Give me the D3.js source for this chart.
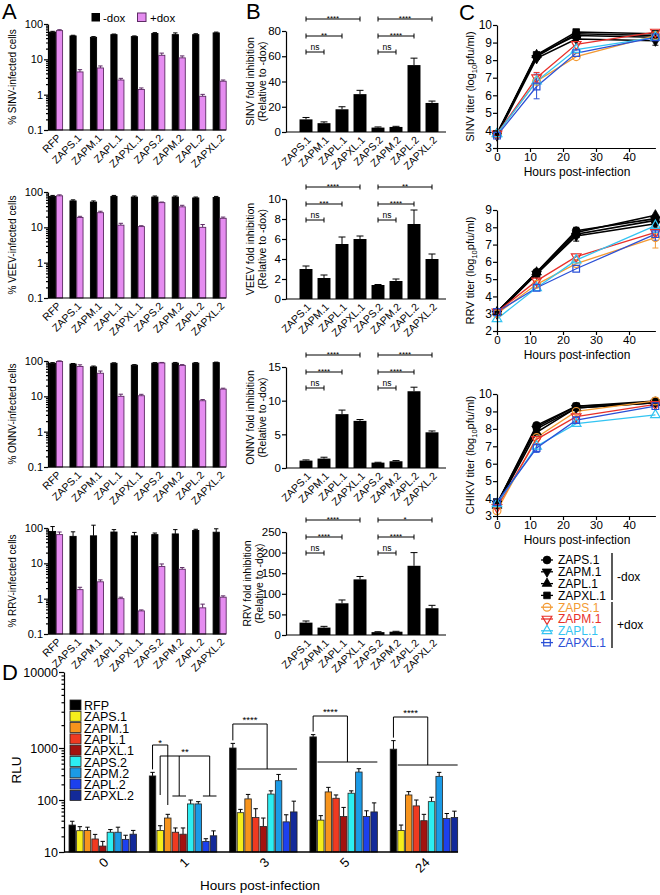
<!DOCTYPE html>
<html><head><meta charset="utf-8">
<script src="https://cdn.jsdelivr.net/npm/d3@7/dist/d3.min.js"></script>
<style>html,body{margin:0;padding:0;background:#fff}svg{display:block}</style>
</head><body>
<svg id="chart" width="660" height="895" xmlns="http://www.w3.org/2000/svg"></svg>
<script>
// ================= DATA =================
// Panel A: % infected cells (log scale)
const aCategories = ["RFP","ZAPS.1","ZAPM.1","ZAPL.1","ZAPXL.1","ZAPS.2","ZAPM.2","ZAPL.2","ZAPXL.2"];
const doxKeys = ["-dox","+dox"];
const aSinvMinus    = [59,46,42,50,44,54,50,50,56];
const aSinvMinusErr = [3,2,2,2,2,3,6,3,3];
const aSinvPlus     = [65,4.4,5.7,2.6,1.4,13,11,0.9,2.4];
const aSinvPlusErr  = [4,0.7,0.8,0.3,0.15,2,1.5,0.12,0.2];
const aVeevMinus    = [75,56,52,75,72,72,72,68,70];
const aVeevMinusErr = [5,4,4,5,5,5,5,4,5];
const aVeevPlus     = [78,19,26,11.5,10.5,50,38,10,18];
const aVeevPlusErr  = [5,1.5,2.5,1.5,0.6,2,4,2,1.5];
const aOnnvMinus    = [86,82,68,86,76,87,87,87,90];
const aOnnvMinusErr = [4,3,4,3,3,3,4,3,3];
const aOnnvPlus     = [97,70,45,10,10.4,88,75,7.5,16];
const aOnnvPlusErr  = [4,8,7,1.5,1,3,4,0.6,1];
const aRrvMinus     = [80,58,60,77,60,65,68,85,76];
const aRrvMinusErr  = [30,20,60,13,15,7,22,7,19];
const aRrvPlus      = [65,1.8,3.0,1.0,0.45,8.1,6.8,0.55,1.1];
const aRrvPlusErr   = [12,0.3,0.4,0.1,0.03,1.5,0.8,0.15,0.1];
const aLogTicks     = [0.1,1,10,100];

// Panel B: fold inhibition
const bCategories = ["ZAPS.1","ZAPM.1","ZAPL.1","ZAPXL.1","ZAPS.2","ZAPM.2","ZAPL.2","ZAPXL.2"];
const bSinv = [10,7,18,30,3.5,4,53,23];        const bSinvErr = [1.5,1,2,3,0.5,0.5,5.5,1.5];
const bVeev = [3.0,2.1,5.5,6.0,1.4,1.8,7.5,4.0]; const bVeevErr = [0.3,0.3,0.7,0.3,0.05,0.2,1.4,0.5];
const bOnnv = [1.1,1.4,8.0,7.0,0.8,1.0,11.4,5.3]; const bOnnvErr = [0.1,0.2,0.6,0.2,0.05,0.1,0.6,0.2];
const bRrv  = [30,18,77,135,7,8,168,65];        const bRrvErr  = [4,3,8,7,1,1,32,7];
const bSinvTicks = [0,20,40,60,80];
const bVeevTicks = [0,2,4,6,8,10];
const bOnnvTicks = [0,5,10,15];
const bRrvTicks  = [0,50,100,150,200,250];
const bSinvSig = [["****","**","ns"],["****","****","ns"]];
const bVeevSig = [["****","***","ns"],["**","****","ns"]];
const bOnnvSig = [["****","****","ns"],["****","****","ns"]];
const bRrvSig  = [["****","****","ns"],["*","****","ns"]];

// Panel C: titers (log10 pfu/ml) at hours
const cHours = [0,12,24,48];
const cSeries = ["ZAPS.1","ZAPM.1","ZAPL.1","ZAPXL.1","ZAPS.1","ZAPM.1","ZAPL.1","ZAPXL.1"];
const cDox    = ["-dox","-dox","-dox","-dox","+dox","+dox","+dox","+dox"];
const cSinv = [[3.8,8.2,9.5,9.4],[3.7,8.1,9.2,9.1],[3.8,8.3,9.4,9.3],[3.8,8.3,9.6,9.5],
               [3.8,6.8,8.2,9.4],[3.8,7.0,8.9,9.6],[3.8,6.8,8.6,9.3],[3.7,6.5,8.4,9.3]];
const cSinvErr = [[0.1,0.1,0.1,0.1],[0.1,0.1,0.1,0.25],[0.1,0.1,0.1,0.1],[0.1,0.1,0.1,0.1],
                  [0.1,0.1,0.1,0.1],[0.1,0.3,0.1,0.1],[0.1,0.1,0.1,0.1],[0.1,0.7,0.1,0.15]];
const cRrv  = [[3.1,5.4,7.8,8.5],[3.0,5.3,7.5,8.2],[3.1,5.4,7.7,8.7],[3.1,5.3,7.6,8.4],
               [3.0,4.7,5.9,7.4],[3.1,4.9,6.3,7.7],[2.7,4.5,6.1,8.1],[3.1,4.5,5.6,7.6]];
const cRrvErr = [[0.1,0.1,0.2,0.1],[0.1,0.1,0.3,0.1],[0.1,0.1,0.2,0.1],[0.1,0.1,0.2,0.1],
                 [0.1,0.1,0.1,0.6],[0.1,0.1,0.1,0.2],[0.1,0.1,0.1,0.4],[0.1,0.1,0.1,0.35]];
const cChikv = [[3.7,8.2,9.3,9.6],[3.7,8.0,9.2,9.5],[3.6,7.8,9.2,9.5],[3.7,8.1,9.3,9.5],
                [3.3,7.5,9.0,9.6],[3.5,7.4,8.7,9.4],[3.7,7.0,8.3,8.8],[3.8,6.9,8.5,9.3]];
const cChikvErr = [[0.1,0.1,0.1,0.1],[0.1,0.1,0.1,0.1],[0.1,0.1,0.1,0.1],[0.1,0.1,0.1,0.1],
                   [0.1,0.1,0.1,0.1],[0.1,0.1,0.1,0.1],[0.1,0.1,0.1,0.1],[0.1,0.25,0.15,0.1]];
const cXTicks = [0,10,20,30,40];

// Panel D: RLU
const dHours = ["0","1","3","5","24"];
const dSeries = ["RFP","ZAPS.1","ZAPM.1","ZAPL.1","ZAPXL.1","ZAPS.2","ZAPM.2","ZAPL.2","ZAPXL.2"];
const dRFP    = [33,290,1000,1400,950];  const dRFPErr    = [6,50,150,100,300];
const dZAPS1  = [25.7,26,57,41,26];      const dZAPS1Err  = [5,6,9,9,7];
const dZAPM1  = [26,45,105,143,125];     const dZAPM1Err  = [4,8,23,32,20];
const dZAPL1  = [17.8,24,46,108,77];     const dZAPL1Err  = [4,5,22,17,23];
const dZAPXL1 = [13,22,31,48,40];        const dZAPXL1Err = [3,7,14,24,13];
const dZAPS2  = [24,84,130,135,93];      const dZAPS2Err  = [3,16,20,15,20];
const dZAPM2  = [24,84,235,345,285];     const dZAPM2Err  = [6,9,75,55,55];
const dZAPL2  = [17.5,16,38,48,44];      const dZAPL2Err  = [3.5,2,14,14,11];
const dZAPXL2 = [22,20.5,59,59,46];      const dZAPXL2Err = [4,5,36,29,15];
const dLogTicks = [10,100,1000,10000];

// ================= STYLE =================
const FONT = "'Liberation Sans', Arial, Helvetica, sans-serif";
const PINK = "#e58cf0", PINK_EDGE = "#5d2b64";
const cColorsPlus = ["#f39a33","#e8302a","#33c4f2","#2b50d6"];
const dColors = ["#000000","#f5ee1c","#f7941d","#ef3a21","#a3120f","#2deef2","#1b9ae6","#1c40ee","#132a99"];

const svg = d3.select("#chart");
svg.append("rect").attr("width",660).attr("height",895).attr("fill","#fff");

function txt(g, x, y, s, size, opts = {}) {
  const t = g.append("text").attr("x", x).attr("y", y).text(s)
    .attr("font-family", FONT).attr("font-size", size).attr("fill", opts.fill || "#000");
  if (opts.anchor) t.attr("text-anchor", opts.anchor);
  if (opts.rotate) t.attr("transform", `rotate(${opts.rotate},${x},${y})`);
  return t;
}
function line(g, x1, y1, x2, y2, color = "#000", w = 1) {
  return g.append("line").attr("x1",x1).attr("y1",y1).attr("x2",x2).attr("y2",y2)
    .attr("stroke",color).attr("stroke-width",w);
}
function styleAxis(a, size) {
  a.attr("font-family", FONT).attr("font-size", size);
  a.selectAll("path,line").attr("stroke","#000").attr("stroke-width",1.2);
  a.selectAll("text").attr("fill","#000");
}
function minorLog(lo, hi) {
  const out = [];
  for (let d = lo; d < hi * 0.999; d *= 10) for (let k = 2; k < 10; k++) out.push(+(d * k).toPrecision(4));
  return out;
}
function rotatedCatAxis(g, scale, yAxis, size, dx = 3, dy = 7) {
  const a = g.append("g").attr("transform", `translate(0,${yAxis})`)
    .call(d3.axisBottom(scale).tickSize(0).tickPadding(0));
  a.select(".domain").remove();
  styleAxis(a, size);
  a.selectAll("text").attr("text-anchor","end").attr("x",0).attr("y",0).attr("dy","0.35em")
    .attr("transform", `translate(${dx},${dy}) rotate(-45)`);
  return a;
}

// ================= PANEL A =================
const aPanels = [
  {name:"SINV", top:24,  minus:aSinvMinus, minusErr:aSinvMinusErr, plus:aSinvPlus, plusErr:aSinvPlusErr},
  {name:"VEEV", top:192, minus:aVeevMinus, minusErr:aVeevMinusErr, plus:aVeevPlus, plusErr:aVeevPlusErr},
  {name:"ONNV", top:361, minus:aOnnvMinus, minusErr:aOnnvMinusErr, plus:aOnnvPlus, plusErr:aOnnvPlusErr},
  {name:"RRV",  top:528, minus:aRrvMinus,  minusErr:aRrvMinusErr,  plus:aRrvPlus,  plusErr:aRrvPlusErr},
];
aPanels.forEach(p => {
  const g = svg.append("g");
  const H = 106, axX = 48;
  const y = d3.scaleLog().domain([0.1,100]).range([p.top + H, p.top]);
  const step = 20.45;
  const x0 = d3.scaleBand().domain(aCategories).range([49.5, 49.5 + step * (9 - 0.36)]).paddingInner(0.36).paddingOuter(0);
  const x1 = d3.scaleBand().domain(doxKeys).range([0, x0.bandwidth()]).paddingInner(0.1);
  aCategories.forEach((c, i) => {
    [[p.minus, p.minusErr, "-dox"], [p.plus, p.plusErr, "+dox"]].forEach(([vals, errs, key]) => {
      const xb = x0(c) + x1(key), w = x1.bandwidth(), v = vals[i], e = errs[i];
      const col = key === "-dox" ? "#000" : PINK_EDGE;
      const cx = xb + w / 2;
      line(g, cx, y(v), cx, y(v + e), col, 1);
      line(g, cx - 2.2, y(v + e), cx + 2.2, y(v + e), col, 1);
      g.append("rect").attr("x", xb).attr("y", y(v)).attr("width", w).attr("height", y(0.1) - y(v))
        .attr("fill", key === "-dox" ? "#000" : PINK).attr("stroke", col).attr("stroke-width", 0.9);
    });
  });
  const am = g.append("g").attr("transform", `translate(${axX},0)`)
    .call(d3.axisLeft(y).tickValues(minorLog(0.1,100)).tickSize(2).tickFormat(""));
  am.select(".domain").remove(); styleAxis(am, 10);
  const a = g.append("g").attr("transform", `translate(${axX},0)`)
    .call(d3.axisLeft(y).tickValues(aLogTicks).tickSize(4).tickSizeOuter(0).tickPadding(1).tickFormat(d => String(d)));
  styleAxis(a, 11);
  line(g, axX, p.top + H, 226, p.top + H, "#000", 1.2);
  rotatedCatAxis(g, x0, p.top + H, 10.5, 3, 6);
  txt(g, 16, p.top + H / 2, `% ${p.name}-infected cells`, 10, {anchor:"middle", rotate:-90});
});
// legend A
{
  const g = svg.append("g");
  g.append("rect").attr("x",91.5).attr("y",13).attr("width",8.5).attr("height",8.5).attr("fill","#000");
  txt(g, 103, 21.5, "-dox", 11.5);
  g.append("rect").attr("x",137.5).attr("y",13).attr("width",8.5).attr("height",8.5).attr("fill",PINK).attr("stroke",PINK_EDGE).attr("stroke-width",1);
  txt(g, 150, 21.5, "+dox", 11.5);
}

// ================= PANEL B =================
const bPanels = [
  {name:"SINV", base:132, top:31,  vals:bSinv, errs:bSinvErr, ticks:bSinvTicks, sig:bSinvSig},
  {name:"VEEV", base:299, top:199, vals:bVeev, errs:bVeevErr, ticks:bVeevTicks, sig:bVeevSig},
  {name:"ONNV", base:468, top:367, vals:bOnnv, errs:bOnnvErr, ticks:bOnnvTicks, sig:bOnnvSig},
  {name:"RRV",  base:635, top:532, vals:bRrv,  errs:bRrvErr,  ticks:bRrvTicks,  sig:bRrvSig},
];
bPanels.forEach(p => {
  const g = svg.append("g");
  const axX = 286;
  const y = d3.scaleLinear().domain([0, d3.max(p.ticks)]).range([p.base, p.top]);
  const x = d3.scaleBand().domain(bCategories).range([297, 297 + 18 * 8]).paddingInner(0.28).paddingOuter(0.14);
  bCategories.forEach((c, i) => {
    const v = p.vals[i], e = p.errs[i], cx = x(c) + x.bandwidth() / 2;
    line(g, cx, y(v), cx, y(v + e), "#000", 1);
    line(g, cx - 3.5, y(v + e), cx + 3.5, y(v + e), "#000", 1);
    g.append("rect").attr("x", x(c)).attr("y", y(v)).attr("width", x.bandwidth()).attr("height", y(0) - y(v)).attr("fill","#000");
  });
  const a = g.append("g").attr("transform", `translate(${axX},0)`)
    .call(d3.axisLeft(y).tickValues(p.ticks).tickSize(4).tickSizeOuter(0).tickPadding(1).tickFormat(d3.format("d")));
  styleAxis(a, 11.5);
  line(g, axX, p.base, 446, p.base, "#000", 1.2);
  rotatedCatAxis(g, x, p.base, 10.5, 3, 6);
  const cy = (p.base + p.top) / 2;
  const labX = p.name === "RRV" ? 251 : 254;
  txt(g, labX, cy, `${p.name} fold inhibition`, 10.5, {anchor:"middle", rotate:-90});
  txt(g, labX + 12, cy, "(Relative to -dox)", 10.5, {anchor:"middle", rotate:-90});
  // significance brackets
  const levels = [p.top - 12, p.top + 5, p.top + 21];
  const groups = [["ZAPS.1", ["ZAPXL.1","ZAPL.1","ZAPM.1"]], ["ZAPS.2", ["ZAPXL.2","ZAPL.2","ZAPM.2"]]];
  groups.forEach(([from, tos], gi) => {
    tos.forEach((to, li) => {
      const x1 = x(from) + x.bandwidth() / 2, x2 = x(to) + x.bandwidth() / 2, yy = levels[li];
      line(g, x1, yy, x2, yy, "#000", 1);
      line(g, x1, yy - 2.5, x1, yy + 2.5, "#000", 1);
      line(g, x2, yy - 2.5, x2, yy + 2.5, "#000", 1);
      const lab = p.sig[gi][li];
      if (lab === "ns") txt(g, (x1 + x2) / 2, yy - 2.5, lab, 8.5, {anchor:"middle"});
      else txt(g, (x1 + x2) / 2, yy + 1.5, lab, 8, {anchor:"middle"});
    });
  });
});

// ================= PANEL C =================
const symTypes = [d3.symbolCircle, d3.symbolTriangle, d3.symbolTriangle, d3.symbolSquare];
const symRot = [0, 180, 0, 0];
const symSize = [48, 40, 40, 44];
function marker(g, cx, cy, k, plus, color) {
  g.append("path").attr("d", d3.symbol().type(symTypes[k]).size(symSize[k])())
    .attr("transform", `translate(${cx},${cy}) rotate(${symRot[k]})`)
    .attr("fill", plus ? "none" : "#000").attr("stroke", plus ? color : "#000").attr("stroke-width", plus ? 1.2 : 0.8);
}
const cPanels = [
  {label:"SINV",  top:25,  bot:148, lo:3, hi:10, vals:cSinv,  errs:cSinvErr},
  {label:"RRV",   top:210, bot:331, lo:2, hi:9,  vals:cRrv,   errs:cRrvErr},
  {label:"CHIKV", top:394, bot:516, lo:3, hi:10, vals:cChikv, errs:cChikvErr},
];
cPanels.forEach(p => {
  const g = svg.append("g");
  const axX = 497;
  const x = d3.scaleLinear().domain([0, 48]).range([axX, axX + 48 * 3.3]);
  const y = d3.scaleLinear().domain([p.lo, p.hi]).range([p.bot, p.top]);
  const order = [0,1,2,3,4,5,6,7];
  order.forEach(si => {
    const plus = cDox[si] === "+dox";
    const k = si % 4;
    const color = plus ? cColorsPlus[k] : "#000";
    const pts = cHours.map((h, i) => [x(h), y(p.vals[si][i])]);
    g.append("path").attr("d", d3.line()(pts)).attr("fill","none").attr("stroke", color).attr("stroke-width", plus ? 1.3 : 1.6);
    cHours.forEach((h, i) => {
      const v = p.vals[si][i], e = p.errs[si][i];
      if (e > 0.12) {
        line(g, x(h), y(v - e), x(h), y(v + e), color, 1);
        line(g, x(h) - 3, y(v - e), x(h) + 3, y(v - e), color, 1);
        line(g, x(h) - 3, y(v + e), x(h) + 3, y(v + e), color, 1);
      }
    });
  });
  order.forEach(si => {
    const plus = cDox[si] === "+dox"; const k = si % 4;
    cHours.forEach((h, i) => marker(g, x(h), y(p.vals[si][i]), k, plus, cColorsPlus[k]));
  });
  const yTicks = d3.range(p.lo, p.hi + 1);
  const a = g.append("g").attr("transform", `translate(${axX},0)`)
    .call(d3.axisLeft(y).tickValues(yTicks).tickSize(4).tickSizeOuter(0).tickPadding(1).tickFormat(d3.format("d")));
  styleAxis(a, 12);
  const b = g.append("g").attr("transform", `translate(0,${p.bot})`)
    .call(d3.axisBottom(x).tickValues(cXTicks).tickSize(4).tickSizeOuter(0).tickPadding(1).tickFormat(d3.format("d")));
  styleAxis(b, 11.5);
  txt(g, 577, p.bot + 28, "Hours post-infection", 12, {anchor:"middle"});
  const t = g.append("text").attr("transform", `translate(474,${(p.top + p.bot) / 2}) rotate(-90)`)
    .attr("text-anchor","middle").attr("font-family",FONT).attr("font-size",11).attr("fill","#000");
  t.append("tspan").text(`${p.label} titer (log`);
  t.append("tspan").text("10").attr("font-size",7.5).attr("dy",2.5);
  t.append("tspan").text("pfu/ml)").attr("dy",-2.5);
});
// legend C
{
  const g = svg.append("g");
  cSeries.forEach((s, si) => {
    const plus = cDox[si] === "+dox"; const k = si % 4;
    const yy = 560 + si * 11.8;
    line(g, 541, yy, 553, yy, plus ? cColorsPlus[k] : "#000", 1.3);
    marker(g, 547, yy, k, plus, cColorsPlus[k]);
    txt(g, 558, yy + 4.3, s, 12, {fill: plus ? cColorsPlus[k] : "#000"});
  });
  line(g, 612, 553, 612, 600, "#000", 1.3);
  line(g, 612, 602, 612, 648, "#000", 1.3);
  txt(g, 617, 581, "-dox", 12);
  txt(g, 617, 629, "+dox", 12);
}

// ================= PANEL D =================
{
  const g = svg.append("g");
  const axX = 64, base = 852;
  const dVals = [dRFP,dZAPS1,dZAPM1,dZAPL1,dZAPXL1,dZAPS2,dZAPM2,dZAPL2,dZAPXL2];
  const dErrs = [dRFPErr,dZAPS1Err,dZAPM1Err,dZAPL1Err,dZAPXL1Err,dZAPS2Err,dZAPM2Err,dZAPL2Err,dZAPXL2Err];
  // GraphPad-style log axis whose top decade is drawn taller
  const y = d3.scaleLog().domain(dLogTicks).range([base, 800, 748, 672]);
  const pi = 0.16, step = 80.3;
  const x0 = d3.scaleBand().domain(dHours).range([69, 69 + step * (5 - pi)]).paddingInner(pi).paddingOuter(0);
  const x1 = d3.scaleBand().domain(dSeries).range([0, x0.bandwidth()]).paddingInner(0.15);
  const cxOf = (h, s) => x0(h) + x1(s) + x1.bandwidth() / 2;
  dHours.forEach((h, hi) => {
    dSeries.forEach((s, si) => {
      const v = dVals[si][hi], e = dErrs[si][hi], xb = x0(h) + x1(s), w = x1.bandwidth(), cx = xb + w / 2;
      line(g, cx, y(v), cx, y(v + e), "#000", 1);
      line(g, cx - 2.2, y(v + e), cx + 2.2, y(v + e), "#000", 1);
      g.append("rect").attr("x", xb).attr("y", y(v)).attr("width", w).attr("height", y(10) - y(v))
        .attr("fill", dColors[si]).attr("stroke", "#222").attr("stroke-width", 0.8);
    });
  });
  const am = g.append("g").attr("transform", `translate(${axX},0)`)
    .call(d3.axisLeft(y).tickValues(minorLog(10,10000)).tickSize(2.5).tickFormat(""));
  am.select(".domain").remove(); styleAxis(am, 10);
  const a = g.append("g").attr("transform", `translate(${axX},0)`)
    .call(d3.axisLeft(y).tickValues(dLogTicks).tickSize(5).tickSizeOuter(0).tickPadding(1).tickFormat(d3.format("d")));
  styleAxis(a, 12.5);
  line(g, axX, base, 458, base, "#000", 1.4);
  const xc = d3.scalePoint().domain(dHours).range([x0("0") + x0.bandwidth() / 2, x0("24") + x0.bandwidth() / 2]);
  rotatedCatAxis(g, xc, base, 13, 3, 8);
  txt(g, 260, 890, "Hours post-infection", 13.5, {anchor:"middle"});
  txt(g, 21, 770, "RLU", 13.5, {anchor:"middle", rotate:-90});
  // legend
  dSeries.forEach((s, si) => {
    const yy = 705 + si * 11.3;
    g.append("rect").attr("x", 70).attr("y", yy - 5).attr("width", 11).attr("height", 10)
      .attr("fill", dColors[si]).attr("stroke", "#222").attr("stroke-width", 0.8);
    txt(g, 84, yy + 5, s, 12.5);
  });
  // significance brackets
  const top = (h) => y(dRFP[dHours.indexOf(h)] + dRFPErr[dHours.indexOf(h)]) - 3;
  // 1 h
  {
    const xr = cxOf("1","RFP"), xs = cxOf("1","ZAPS.1"), xm = cxOf("1","ZAPM.1");
    const yA = 745, yB = 756;
    line(g, xr, top("1"), xr, yA); line(g, xr, yA, xm, yA); line(g, xm, yA, xm, 805);
    txt(g, (xr + xm) / 2, yA + 1, "*", 9.5, {anchor:"middle"});
    const xL = (cxOf("1","ZAPL.1") + cxOf("1","ZAPXL.1")) / 2;
    const xL2 = (cxOf("1","ZAPL.2") + cxOf("1","ZAPXL.2")) / 2;
    line(g, xs, yB, xL2, yB); line(g, xs, yB, xs, 795);
    line(g, xL, yB, xL, 796); line(g, cxOf("1","ZAPL.1") - 3, 796, cxOf("1","ZAPXL.1") + 3, 796);
    line(g, xL2, yB, xL2, 796); line(g, cxOf("1","ZAPL.2") - 3, 796, cxOf("1","ZAPXL.2") + 3, 796);
    txt(g, (xs + xL2) / 2, yB - 1, "**", 9.5, {anchor:"middle"});
  }
  // 3, 5, 24 h
  [["3",724,769],["5",716,762],["24",717,765]].forEach(([h, yT, yL]) => {
    const xr = cxOf(h,"RFP");
    const xa = x0(h) + x1("ZAPS.1"), xb = x0(h) + x1("ZAPXL.2") + x1.bandwidth();
    const xm = (xa + xb) / 2;
    line(g, xr, top(h), xr, yT); line(g, xr, yT, xm, yT); line(g, xm, yT, xm, yL);
    line(g, xa, yL, xb, yL);
    txt(g, (xr + xm) / 2, yT - 1, "****", 9.5, {anchor:"middle"});
  });
}

// ================= PANEL LETTERS =================
txt(svg, 2, 19, "A", 22);
txt(svg, 246, 19, "B", 22);
txt(svg, 459, 20, "C", 22);
txt(svg, 2, 680, "D", 22);
</script>
</body></html>
